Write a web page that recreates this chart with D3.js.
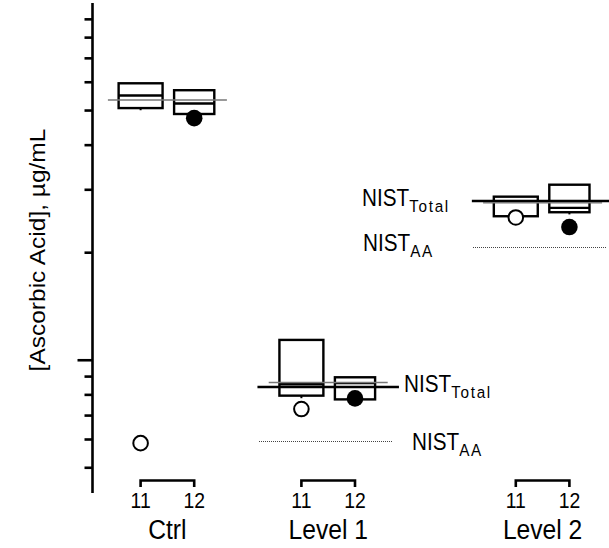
<!DOCTYPE html>
<html><head><meta charset="utf-8">
<script src="https://cdn.jsdelivr.net/npm/d3@7"></script>
<style>body{margin:0;background:#fff}svg{display:block}text{font-family:"Liberation Sans",Arial,sans-serif;fill:#000}</style>
</head><body>
<script>
// ---- data ----
const groups = ["Ctrl", "Level 1", "Level 2"];
const runs = ["11", "12"];
const slots = [1, 2, 4, 5, 8, 9];            // x value of each run box (group-major)
const groupCenters = [1.5, 4.5, 8.5];
const boxTop    = [59.6, 57.0, 11.4, 8.96, 28.7, 31.0];
const boxBottom = [50.8, 48.9, 7.96, 7.77, 25.3, 25.96];
const boxMedian = [55.1, 52.3, 8.57, 8.63, 27.8, 26.7];
const whiskerLow = [50.1, 48.9, 7.83, 7.77, 25.3, 25.6];
const openValues = [5.86, 7.30, 25.1];       // run 11
const filledValues = [47.6, 7.82, 23.6];     // run 12
const measuredMean = [53.5, 8.66, 27.6];
const nistTotal = [null, 8.42, 27.9];
const nistAA = [null, 5.95, 20.8];
const yMinor = [5, 6, 7, 8, 9, 20, 30, 40, 50, 60, 70, 80, 90];
const yMajor = [10];
const yLabel = "[Ascorbic Acid], µg/mL";

const W = 609, H = 548;
const SX = 0.9; // horizontal text compression seen in the reference
const svg = d3.select("body").append("svg").attr("width", W).attr("height", H);
const x = d3.scaleLinear().domain([0, 10]).range([87, 623]);
const y = d3.scaleLog().domain([4.25, 100]).range([493, 3]);
const axX = 92.5;

function htext(xp, yp, size, anchor, sx) {
  return svg.append("text").attr("transform", `translate(${xp},${yp}) scale(${sx || SX},1)`)
    .attr("text-anchor", anchor || "start").attr("font-size", size);
}

// axis
const ax = svg.append("g").attr("transform", `translate(${axX},0)`);
ax.append("line").attr("y1", 3).attr("y2", 493).attr("stroke", "#000").attr("stroke-width", 2.6);
ax.selectAll(".mn").data(yMinor).join("line").attr("x1", -8).attr("x2", 0)
  .attr("y1", d => y(d)).attr("y2", d => y(d)).attr("stroke", "#000").attr("stroke-width", 2.6);
ax.selectAll(".mj").data(yMajor).join("line").attr("x1", -15).attr("x2", 0)
  .attr("y1", d => y(d)).attr("y2", d => y(d)).attr("stroke", "#000").attr("stroke-width", 2.6);

svg.append("text").attr("transform", `translate(45,250) rotate(-90) scale(1,${SX})`)
  .attr("text-anchor", "middle").attr("font-size", 24.5).text(yLabel);

// reference lines
const thinHalf = 1.11, thickHalf = 1.32;
groupCenters.forEach((c, i) => {
  if (nistAA[i] != null) {
    const yy = Math.round(y(nistAA[i])) + 0.5;
    svg.append("line").attr("x1", x(c - 1.3)).attr("x2", Math.min(x(c + 1.2), W))
      .attr("y1", yy).attr("y2", yy).attr("shape-rendering", "crispEdges")
      .attr("stroke", "#444").attr("stroke-width", 1).attr("stroke-dasharray", "1,1");
  }
  if (nistTotal[i] != null) {
    svg.append("line").attr("x1", x(c - thickHalf)).attr("x2", Math.min(x(c + thickHalf), W))
      .attr("y1", y(nistTotal[i])).attr("y2", y(nistTotal[i]))
      .attr("stroke", "#000").attr("stroke-width", 2.5);
  }
});

// boxes
slots.forEach((s, i) => {
  const bw = i % 2 === 0 ? 0.82 : 0.75;
  const g = svg.append("g");
  g.append("line").attr("x1", x(s)).attr("x2", x(s)).attr("y1", y(boxBottom[i])).attr("y2", y(whiskerLow[i]))
    .attr("stroke", "#000").attr("stroke-width", 2);
  g.append("rect").attr("x", x(s - bw / 2)).attr("width", x(s + bw / 2) - x(s - bw / 2))
    .attr("y", y(boxTop[i])).attr("height", y(boxBottom[i]) - y(boxTop[i]))
    .attr("fill", "none").attr("stroke", "#000").attr("stroke-width", 2.4);
  g.append("line").attr("x1", x(s - bw / 2)).attr("x2", x(s + bw / 2))
    .attr("y1", y(boxMedian[i])).attr("y2", y(boxMedian[i])).attr("stroke", "#000").attr("stroke-width", 2.4);
});

// measured mean thin lines
groupCenters.forEach((c, i) => {
  svg.append("line").attr("x1", x(c - thinHalf)).attr("x2", Math.min(x(c + thinHalf), W))
    .attr("y1", y(measuredMean[i])).attr("y2", y(measuredMean[i]))
    .attr("stroke", "#777").attr("stroke-width", 1.4);
});

// points
openValues.forEach((v, i) => {
  svg.append("circle").attr("cx", x(slots[i * 2])).attr("cy", y(v)).attr("r", 7.3)
    .attr("fill", "#fff").attr("stroke", "#000").attr("stroke-width", 2);
});
filledValues.forEach((v, i) => {
  svg.append("circle").attr("cx", x(slots[i * 2 + 1])).attr("cy", y(v)).attr("r", 8.3).attr("fill", "#000");
});

// NIST labels
function nistLabel(xp, yp, sub) {
  const t = htext(xp, yp, 23);
  t.append("tspan").text("NIST");
  t.append("tspan").attr("font-size", 17).attr("letter-spacing", 1.9).attr("dy", 6).text(sub);
}
nistLabel(404, 392, "Total");
nistLabel(412, 450, "AA");
nistLabel(362, 206, "Total");
nistLabel(363, 251, "AA");

// brackets and run labels
groupCenters.forEach((c, gi) => {
  const a = x(slots[gi * 2]), b = x(slots[gi * 2 + 1]);
  svg.append("path").attr("d", `M${a},487V480.5H${b}V487`).attr("fill", "none")
    .attr("stroke", "#000").attr("stroke-width", 2.6);
  runs.forEach((r, ri) => {
    htext(x(slots[gi * 2 + ri]), 508, 22, "middle", 0.88).text(r);
  });
  htext(x(c), 539, 28, "middle", 0.88).text(groups[gi]);
});
</script>
</body></html>
